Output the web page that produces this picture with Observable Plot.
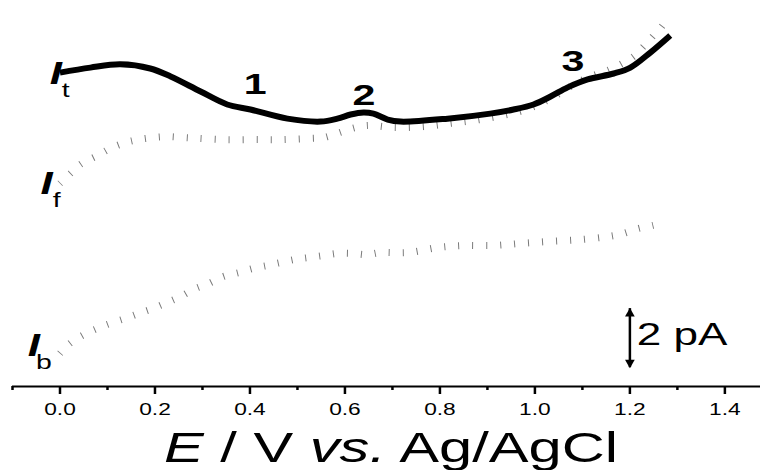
<!DOCTYPE html>
<html>
<head>
<meta charset="utf-8">
<script src="https://cdn.jsdelivr.net/npm/d3@7"></script>
<script src="https://cdn.jsdelivr.net/npm/@observablehq/plot@0.6"></script>
<style>
  html, body { margin: 0; padding: 0; background: white; }
</style>
</head>
<body>
<div id="chart"></div>
<script>
// ---- data (E in V vs. Ag/AgCl, current in pA, traces offset for display) ----
const E_t = [0.0, 0.064, 0.127, 0.19, 0.233, 0.296, 0.352, 0.401, 0.479, 0.549, 0.584, 0.612, 0.639, 0.66, 0.69, 0.717, 0.816, 0.906, 0.955, 0.997, 1.033, 1.069, 1.111, 1.166, 1.201, 1.243, 1.285];
const I_t = [10.64, 10.81, 10.92, 10.78, 10.51, 10.0, 9.56, 9.39, 9.08, 8.98, 9.08, 9.22, 9.29, 9.25, 9.05, 8.98, 9.08, 9.25, 9.39, 9.56, 9.83, 10.14, 10.41, 10.61, 10.81, 11.32, 11.9];

const E_f = [0.0, 0.022, 0.043, 0.079, 0.106, 0.138, 0.165, 0.197, 0.226, 0.258, 0.29, 0.344, 0.407, 0.468, 0.528, 0.555, 0.584, 0.616, 0.647, 0.702, 0.765, 0.822, 0.885, 0.976, 1.033, 1.09, 1.123, 1.153, 1.18, 1.208, 1.229, 1.25, 1.269, 1.281];
const I_f = [6.88, 7.22, 7.53, 7.83, 8.07, 8.27, 8.37, 8.44, 8.47, 8.44, 8.41, 8.37, 8.37, 8.37, 8.41, 8.44, 8.58, 8.75, 8.85, 8.78, 8.81, 8.92, 9.05, 9.36, 9.76, 10.31, 10.54, 10.71, 10.92, 11.19, 11.53, 11.9, 12.24, 12.58];

const E_b = [0.0, 0.018, 0.047, 0.079, 0.106, 0.138, 0.165, 0.195, 0.226, 0.254, 0.285, 0.313, 0.344, 0.376, 0.405, 0.436, 0.464, 0.496, 0.523, 0.555, 0.584, 0.616, 0.647, 0.675, 0.734, 0.795, 0.85, 0.913, 0.97, 1.033, 1.096, 1.153, 1.187, 1.218, 1.248, 1.271];
const I_b = [1.12, 1.42, 1.73, 1.97, 2.14, 2.31, 2.47, 2.64, 2.85, 3.05, 3.32, 3.49, 3.73, 3.86, 4.0, 4.10, 4.20, 4.31, 4.37, 4.44, 4.51, 4.51, 4.47, 4.54, 4.54, 4.71, 4.78, 4.78, 4.85, 4.92, 4.98, 5.08, 5.19, 5.36, 5.46, 5.56];

const majorTicks = [0.0, 0.2, 0.4, 0.6, 0.8, 1.0, 1.2, 1.4];
const minorTicks = [-0.1, 0.1, 0.3, 0.5, 0.7, 0.9, 1.1, 1.3];

// curve labels I_t, I_f, I_b
const curveLabelE = [-0.009, -0.028, -0.055];
const curveLabelI = [10.27, 6.54, 1.05];
const curveLabelSub = ["t", "f", "b"];

// peak numbers
const peakE = [0.411, 0.64, 1.08];
const peakI = [9.90, 9.53, 10.71];
const peakText = ["1", "2", "3"];

// scale bar: 2 pA
const barE = 1.2;
const barFrom = 0.64;
const barTo = 2.64;
const barLabel = "2 pA";
const barLabelE = 1.31;
const barLabelI = 1.39;

// ---- tables ----
const toRows = (E, I) => E.map((e, i) => ({E: e, I: I[i]}));
const tRows = toRows(E_t, I_t);
const fRows = toRows(E_f, I_f);
const bRows = toRows(E_b, I_b);
const labelRows = curveLabelE.map((e, i) => ({E: e, I: curveLabelI[i], sub: curveLabelSub[i]}));
const peakRows = peakE.map((e, i) => ({E: e, I: peakI[i], text: peakText[i]}));

const font = "'Liberation Sans', Arial, sans-serif";
const dashed = {x: "E", y: "I", stroke: "#7a7a7a", strokeWidth: 7, strokeDasharray: "1,13", strokeLinecap: "butt", strokeLinejoin: "miter", curve: "catmull-rom"};

const chart = Plot.plot({
  width: 760,
  height: 470,
  marginTop: 10,
  marginBottom: 84,
  marginLeft: 12,
  marginRight: 0,
  style: {fontFamily: font, background: "white", color: "black", overflow: "visible"},
  x: {domain: [-0.1, 1.475], label: null},
  y: {domain: [0, 376 / 29.5], axis: null, label: null},
  marks: [
    Plot.line(bRows, dashed),
    Plot.line(fRows, dashed),
    Plot.line(tRows, {x: "E", y: "I", stroke: "black", strokeWidth: 6, strokeLinecap: "butt", curve: "catmull-rom"}),
    Plot.ruleY([0], {stroke: "black", strokeWidth: 2}),
    Plot.axisX(majorTicks, {tickSize: 8, tickPadding: 9, strokeWidth: 2.5, fontSize: 16, tickFormat: d3.format(".1f"), label: null, anchor: "bottom"}),
    Plot.axisX(minorTicks, {tickSize: 4, strokeWidth: 2.5, tickFormat: () => "", label: null, anchor: "bottom"}),
    // curve labels
    Plot.text(labelRows, {x: "E", y: "I", text: () => "I", fontSize: 31, fontWeight: "bold", fontStyle: "italic", lineAnchor: "bottom", textAnchor: "middle"}),
    Plot.text(labelRows, {x: "E", y: "I", text: "sub", fontSize: 20, dx: 10, dy: 13, lineAnchor: "bottom", textAnchor: "middle"}),
    // peak numbers
    Plot.text(peakRows, {x: "E", y: "I", text: "text", fontSize: 29, fontWeight: "bold", lineAnchor: "bottom", textAnchor: "middle"}),
    // scale bar
    Plot.ruleX([barE], {y1: barFrom, y2: barTo, stroke: "black", strokeWidth: 2.5}),
    Plot.dot([barE], {x: d => d, y: () => barTo, symbol: "triangle", r: 3.6, fill: "black", stroke: null, dy: 5}),
    Plot.dot([barE], {x: d => d, y: () => barFrom, symbol: "triangle", r: 3.6, fill: "black", stroke: null, rotate: 180, dy: -5}),
    Plot.text([barLabel], {x: () => barLabelE, y: () => barLabelI, text: d => d, fontSize: 31, lineAnchor: "bottom", textAnchor: "middle"})
  ]
});

document.getElementById("chart").appendChild(chart);

// axis title with mixed italics
const svg = d3.select(chart);
const title = svg.append("text")
  .attr("x", 391)
  .attr("y", 462)
  .attr("text-anchor", "middle")
  .attr("font-family", font)
  .attr("font-size", 42)
  .attr("fill", "black");
title.append("tspan").attr("font-style", "italic").text("E");
title.append("tspan").text(" / V ");
title.append("tspan").attr("font-style", "italic").text("vs.");
title.append("tspan").text(" Ag/AgCl");

// the reference's lettering is stretched horizontally
chart.querySelectorAll("text").forEach(t => {
  const L = t.getComputedTextLength();
  if (L > 0) {
    t.setAttribute("textLength", (L * 1.42).toFixed(1));
    t.setAttribute("lengthAdjust", "spacingAndGlyphs");
  }
});
</script>
</body>
</html>
